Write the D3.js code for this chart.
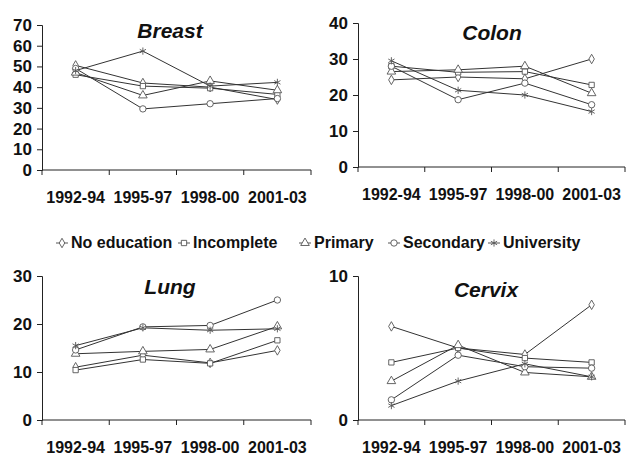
<!DOCTYPE html>
<html lang="en">
<head>
  <meta charset="utf-8">
  <title>Cancer trends by education</title>
  <script src="https://d3js.org/d3.v7.min.js"></script>
  <style>
    body { margin: 0; background: #fff; }
    text { font-family: "Liberation Sans", Arial, sans-serif; font-weight: bold; fill: #111; }
  </style>
</head>
<body>
<script>
  // data
  var periods = ["1992-94", "1995-97", "1998-00", "2001-03"];
  var seriesNames = ["No education", "Incomplete", "Primary", "Secondary", "University"];
  var markerTypes = ["diamond", "square", "triangle", "circle", "asterisk"];

  var breast = [
    [50.5, 42, 40, 34],
    [46, 40.5, 39.5, 36.5],
    [47, 36, 43, 38.5],
    [49, 29.5, 32, 34.5],
    [48, 57.4, 40.5, 42.3]
  ];
  var colon = [
    [24.2, 25, 24.5, 30],
    [28, 26.3, 26.5, 22.8],
    [26.5, 27, 28, 20.5],
    [28, 18.7, 23.3, 17.3],
    [29.5, 21.3, 20, 15.4]
  ];
  var lung = [
    [11, 13.5, 11.9, 14.5],
    [10.4, 12.6, 11.8, 16.6],
    [13.8, 14.3, 14.7, 19.5],
    [14.6, 19.4, 19.7, 25],
    [15.5, 19.2, 18.7, 19]
  ];
  var cervix = [
    [6.5, 5.0, 4.55, 8.0],
    [4.0, 5.0, 4.3, 4.0],
    [2.7, 5.2, 3.3, 3.0],
    [1.4, 4.5, 3.7, 3.6],
    [1.0, 2.7, 3.9, 3.0]
  ];

  var breastTicks = [0, 10, 20, 30, 40, 50, 60, 70];
  var colonTicks = [0, 10, 20, 30, 40];
  var lungTicks = [0, 10, 20, 30];
  var cervixTicks = [0, 10];

  var width = 627, height = 455;

  var svg = d3.select("body").append("svg")
      .attr("width", width)
      .attr("height", height);

  var symbolFor = {
    diamond: d3.symbolDiamond,
    square: d3.symbolSquare,
    triangle: d3.symbolTriangle,
    circle: d3.symbolCircle,
    asterisk: d3.symbolAsterisk
  };

  function drawMarker(g, type, x, y) {
    var size = type == "asterisk" ? 36 : (type == "square" ? 28 : 32);
    if (type == "diamond") size = 26;
    g.append("path")
      .attr("d", d3.symbol().type(symbolFor[type]).size(size)())
      .attr("transform", "translate(" + x + "," + y + ")")
      .attr("fill", "#fff")
      .attr("stroke", "#555")
      .attr("stroke-width", 0.9);
  }

  function drawPanel(title, values, ticks, box) {
    var g = svg.append("g");

    var x = d3.scaleBand().domain(periods).range([box.x0, box.x1]);
    var y = d3.scaleLinear().domain([0, ticks[ticks.length - 1]]).range([box.y1, box.y0]);

    // y axis
    var yAxis = g.append("g")
        .attr("transform", "translate(" + box.x0 + ",0)")
        .call(d3.axisLeft(y).tickValues(ticks).tickSize(5).tickPadding(5));
    yAxis.select(".domain").attr("stroke", "#222");
    yAxis.selectAll(".tick line").attr("stroke", "#222");
    yAxis.selectAll("text").style("font-size", "17px").attr("fill", "#111");

    // x axis, ticks on band edges like the original
    var xAxis = g.append("g")
        .attr("transform", "translate(0," + box.y1 + ")");
    xAxis.append("line")
        .attr("x1", box.x0).attr("x2", box.x1)
        .attr("stroke", "#222");
    xAxis.selectAll("line.tk")
        .data(periods.concat(["end"]))
        .join("line")
        .attr("class", "tk")
        .attr("x1", function(d, i) { return box.x0 + i * x.step(); })
        .attr("x2", function(d, i) { return box.x0 + i * x.step(); })
        .attr("y1", 0).attr("y2", 5)
        .attr("stroke", "#222");
    xAxis.selectAll("text")
        .data(periods)
        .join("text")
        .attr("x", function(d) { return x(d) + x.bandwidth() / 2; })
        .attr("y", 33)
        .attr("text-anchor", "middle")
        .style("font-size", "16px")
        .text(function(d) { return d; });

    // title
    g.append("text")
      .attr("x", box.tx)
      .attr("y", box.ty)
      .attr("text-anchor", "middle")
      .style("font-size", "21px")
      .style("font-style", "italic")
      .text(title);

    var line = d3.line()
        .x(function(d, i) { return x(periods[i]) + x.bandwidth() / 2; })
        .y(function(d) { return y(d); });

    values.forEach(function(s) {
      g.append("path")
        .attr("d", line(s))
        .attr("fill", "none")
        .attr("stroke", "#333")
        .attr("stroke-width", 1);
    });

    values.forEach(function(s, k) {
      s.forEach(function(v, i) {
        drawMarker(g, markerTypes[k], x(periods[i]) + x.bandwidth() / 2, y(v));
      });
    });
  }

  drawPanel("Breast", breast, breastTicks, {x0: 42, x1: 311, y0: 25, y1: 170, tx: 170, ty: 38});
  drawPanel("Colon", colon, colonTicks, {x0: 358, x1: 625, y0: 23, y1: 167, tx: 492, ty: 40});
  drawPanel("Lung", lung, lungTicks, {x0: 42, x1: 311, y0: 276, y1: 420, tx: 170, ty: 294});
  drawPanel("Cervix", cervix, cervixTicks, {x0: 358, x1: 625, y0: 276, y1: 420, tx: 486, ty: 297});

  // legend
  var legend = svg.append("g").attr("transform", "translate(0,248)");
  var legendX = [62, 184, 305, 394, 494];
  seriesNames.forEach(function(name, k) {
    var lx = legendX[k];
    legend.append("line")
      .attr("x1", lx - 6).attr("x2", lx + 6)
      .attr("y1", -5).attr("y2", -5)
      .attr("stroke", "#555");
    drawMarker(legend, markerTypes[k], lx, -5);
    legend.append("text")
      .attr("x", lx + 9)
      .attr("y", 0)
      .style("font-size", "16px")
      .text(name);
  });
</script>
</body>
</html>
